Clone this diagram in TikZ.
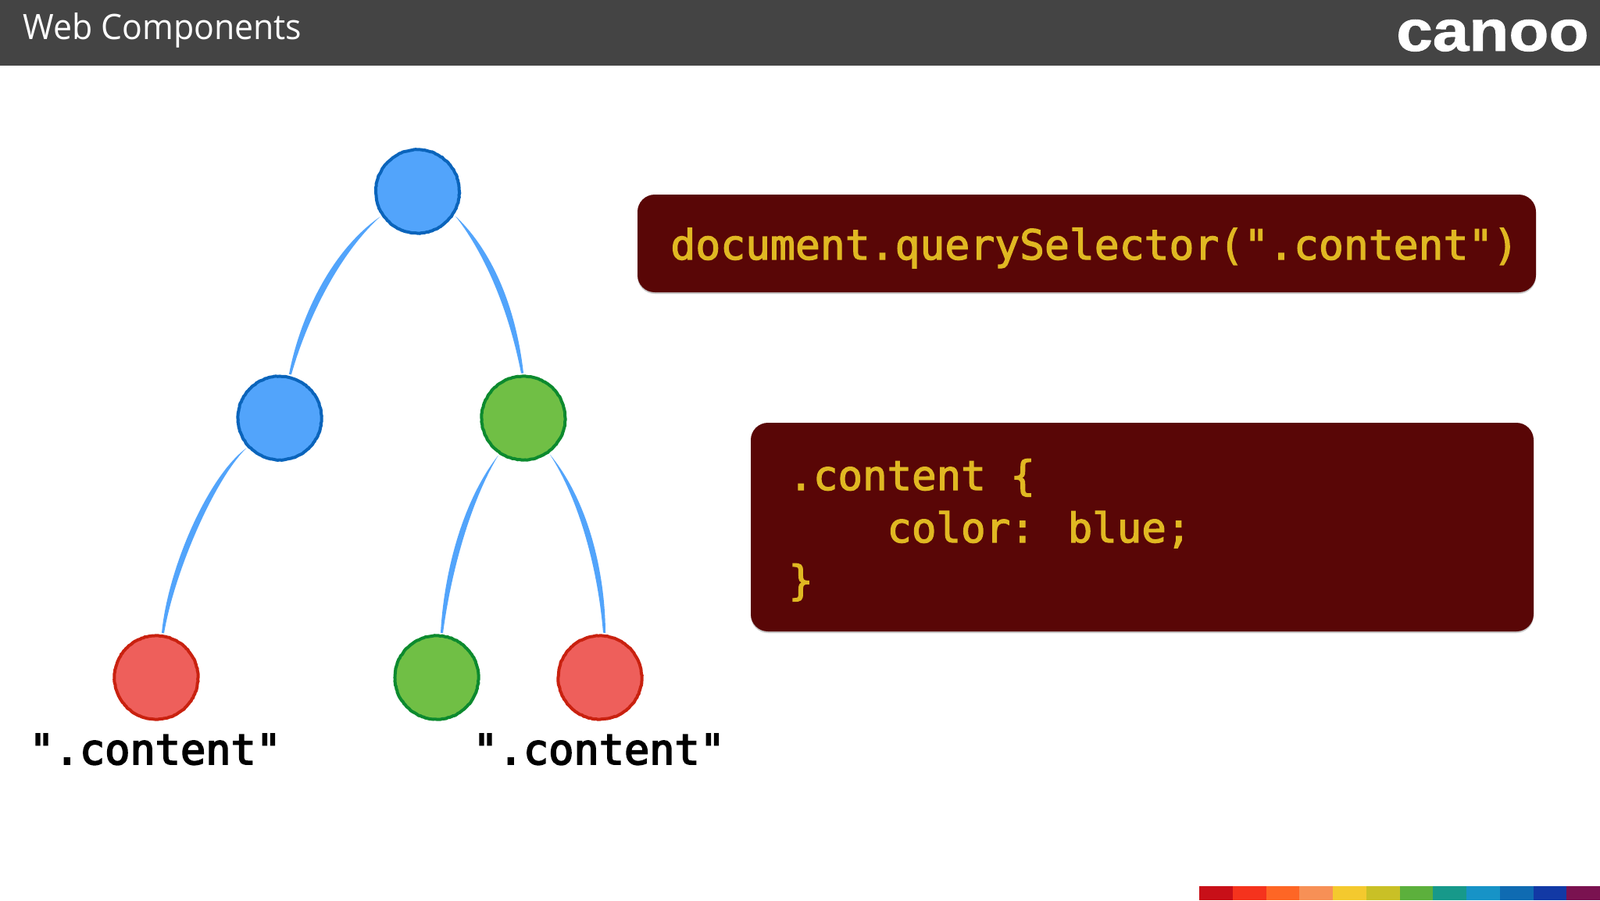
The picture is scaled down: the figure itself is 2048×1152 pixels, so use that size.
\documentclass[tikz,border=0pt]{standalone}
\usetikzlibrary{decorations.pathmorphing}
\usepackage{fontspec}
\setmainfont{Open Sans}
\newfontfamily\codefont[FakeBold=2.4]{DejaVu Sans Mono}
\newfontfamily\lblfont[FakeBold=3.4]{DejaVu Sans Mono}
\newfontfamily\logofont[FakeBold=1.2]{Liberation Sans Bold}
\definecolor{hdr}{HTML}{444444}
\definecolor{boxc}{HTML}{590606}
\definecolor{codec}{HTML}{E0B822}
\definecolor{edgec}{HTML}{52A4FB}
\definecolor{bluef}{HTML}{52A4FB}\definecolor{blued}{HTML}{0A64BB}
\definecolor{greenf}{HTML}{70BF45}\definecolor{greend}{HTML}{0C8A2E}
\definecolor{redf}{HTML}{EE5F5B}\definecolor{redd}{HTML}{C9210F}
\definecolor{s1}{HTML}{C80F18}\definecolor{s2}{HTML}{F5331D}\definecolor{s3}{HTML}{FE6625}
\definecolor{s4}{HTML}{F79056}\definecolor{s5}{HTML}{F4C92E}\definecolor{s6}{HTML}{C9C026}
\definecolor{s7}{HTML}{5CB03C}\definecolor{s8}{HTML}{17998A}\definecolor{s9}{HTML}{1793C7}
\definecolor{s10}{HTML}{0F6BB2}\definecolor{s11}{HTML}{1239A5}\definecolor{s12}{HTML}{7A1250}
\tikzset{
  dot/.style={circle,draw,line width=2pt,minimum size=53.5pt,inner sep=0pt,outer sep=2pt,
    decorate,decoration={random steps,segment length=1.2pt,amplitude=0.18pt}},
  bluedot/.style={dot,fill=bluef,draw=blued},
  greendot/.style={dot,fill=greenf,draw=greend},
  reddot/.style={dot,fill=redf,draw=redd},
  codebox/.style={rounded corners=11pt,fill=boxc},
  boxshadow/.style={rounded corners=11pt,fill=black!22},
  codetext/.style={anchor=base west,inner sep=0pt,text=codec,font=\codefont\fontsize{26.5}{32}\selectfont},
  codetextb/.style={anchor=base west,inner sep=0pt,text=codec,font=\codefont\fontsize{26.2}{32}\selectfont},
  lbl/.style={anchor=base west,inner sep=0pt,text=black,font=\lblfont\fontsize{26.8}{32}\selectfont},
  taper/.style={fill=edgec}
}
% #1 start node, #2 start angle, #3 end node, #4 end angle, #5-#8 control points, #9 half-width offset "dx/dy"
\newcommand{\taperedge}[9]{%
  \pgfmathsetmacro{\endA}{#4+1.4}\pgfmathsetmacro{\endB}{#4-1.4}%
  \foreach \ox/\oy in {#9}{%
  \fill[taper] (#1.#2) .. controls (#5+\ox,#6+\oy) and (#7+\ox,#8+\oy) .. (#3.\endB)
     -- (#3.\endA) .. controls (#7-\ox,#8-\oy) and (#5-\ox,#6-\oy) .. (#1.#2) -- cycle;}}
\begin{document}
\begin{tikzpicture}[x=0.5pt,y=-0.5pt]
\useasboundingbox (0,0) rectangle (2048,1152);
\fill[white] (0,0) rectangle (2048,1152);
\fill[hdr] (0,0) rectangle (2048,83.5);
\node[anchor=base west,inner sep=0pt,text=white,xscale=0.955,font=\fontsize{22.4}{26}\selectfont] (title) at (29,50) {Web Components};
\node[anchor=base east,inner sep=0pt,text=white,xscale=1.13,font=\logofont\fontsize{37}{40}\selectfont] (logo) at (2034,65) {canoo};
% colour bar
\foreach \i in {1,...,12}{
  \fill[s\i] ({1535+(\i-1)*42.75},1134) rectangle ({1535+\i*42.75},1152);
}
% nodes
\node[bluedot] (top) at (534.5,245) {};
\node[bluedot] (l) at (358,535) {};
\node[greendot] (r) at (670,535) {};
\node[reddot] (ll) at (200,867) {};
\node[greendot] (rl) at (559,867) {};
\node[reddot] (rr) at (768,867) {};
% connectors
\taperedge{top}{214}{l}{77}{430}{322}{389}{405}{4.2/2.8}
\taperedge{top}{327}{r}{92}{625}{322}{656}{395}{4.6/-2}
\taperedge{l}{222}{ll}{82}{270}{612}{219}{730}{4.2/2}
\taperedge{r}{236}{rl}{84}{598}{640}{573}{730}{4.4/1.4}
\taperedge{r}{306}{rr}{85}{747}{640}{770}{730}{4.4/-1.4}
% boxes
\fill[boxshadow] (816,251) rectangle (1966,376);
\fill[codebox] (816,249) rectangle (1966,374);
\node[codetext] (q) at (858,332) {document.querySelector(".content")};
\fill[boxshadow] (961,544) rectangle (1963,810);
\fill[codebox] (961,541) rectangle (1963,808);
\node[codetextb] (c1) at (1009,627) {.content \{};
\node[codetextb] (c2) at (1135,694) {color: blue;};
\node[codetextb] (c3) at (1009,761) {\}};
% labels
\node[lbl] (la) at (37,978) {".content"};
\node[lbl] (lb) at (605,978) {".content"};
\end{tikzpicture}
\end{document}
